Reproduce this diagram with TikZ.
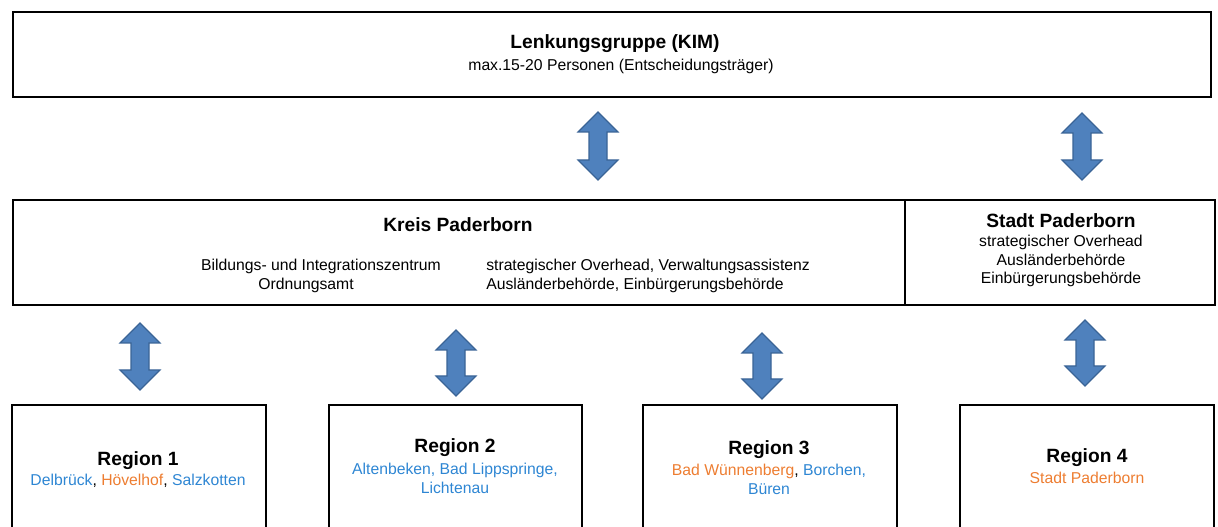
\documentclass[tikz,border=0pt]{standalone}
\usepackage{fontspec}
\setmainfont{Liberation Sans}
\definecolor{arrowfill}{HTML}{4F81BD}
\definecolor{arrowline}{HTML}{3A6496}
\definecolor{townblue}{RGB}{46,134,211}
\definecolor{townorange}{HTML}{ED7D31}
\newcommand{\tb}[1]{\textcolor{townblue}{#1}}
\newcommand{\tor}[1]{\textcolor{townorange}{#1}}
\newcommand{\dblarrow}[4]{%
  \path[blockarrow] (#1,#2) -- ({#1+20},{#2+20}) -- ({#1+9},{#2+20}) -- ({#1+9},{#3-20})
    -- ({#1+20},{#3-20}) -- (#1,#3) -- ({#1-20},{#3-20}) -- ({#1-9},{#3-20})
    -- ({#1-9},{#2+20}) -- ({#1-20},{#2+20}) -- cycle;
  \coordinate (#4) at (#1,{(#2+#3)/2});}
\tikzset{
  boxline/.style={draw=black, line width=2.2pt},
  blockarrow/.style={fill=arrowfill, draw=arrowline, line width=0.9pt, line join=miter},
  title/.style={font=\fontsize{14.4}{17}\selectfont\bfseries, inner sep=0pt},
  body/.style={font=\fontsize{11.8}{13.6}\selectfont, inner sep=0pt, align=center},
}
\begin{document}
\begin{tikzpicture}[x=0.75pt, y=-0.75pt]
\useasboundingbox (0,0) rectangle (1218,527);
\clip (0,0) rectangle (1218,527);
% boxes
\draw[boxline] (13,12) rectangle (1211,97);
\draw[boxline] (13,200) rectangle (1215,305);
\draw[boxline] (905,200) -- (905,305);
\draw[boxline] (12,540) |- (266,405) -- (266,540);
\draw[boxline] (329,540) |- (582,405) -- (582,540);
\draw[boxline] (643,540) |- (897,405) -- (897,540);
\draw[boxline] (960,540) |- (1214,405) -- (1214,540);
% top
\node[title] (lenk) at (615,44) {Lenkungsgruppe (KIM)};
\node[body] (lenk2) at (621,66) {max.15-20 Personen (Entscheidungsträger)};
% Kreis
\node[title] (kreis) at (458,225) {Kreis Paderborn};
\node[body] (bild) at (321,266) {Bildungs- und Integrationszentrum};
\node[body] (ord) at (306,285) {Ordnungsamt};
\node[body, anchor=west, align=left] (strat) at (486,276) {strategischer Overhead, Verwaltungsassistenz\\Ausländerbehörde, Einbürgerungsbehörde};
% Stadt
\node[title] (stadt) at (1061,221) {Stadt Paderborn};
\node[body, font=\fontsize{11.8}{13.9}\selectfont] (stadt2) at (1061,261) {strategischer Overhead\\Ausländerbehörde\\Einbürgerungsbehörde};
% regions
\node[title] (r1) at (138,461) {Region 1};
\node[body] (r1t) at (138,481) {\tb{Delbrück}, \tor{Hövelhof}, \tb{Salzkotten}};
\node[title] (r2) at (455,448) {Region 2};
\node[body, font=\fontsize{11.8}{14.2}\selectfont] (r2t) at (455,478.5) {\tb{Altenbeken, Bad Lippspringe,}\\\tb{Lichtenau}};
\node[title] (r3) at (769,450) {Region 3};
\node[body, font=\fontsize{11.8}{14.2}\selectfont] (r3t) at (769,479) {\tor{Bad Wünnenberg}, \tb{Borchen,}\\\tb{Büren}};
\node[title] (r4) at (1087,458) {Region 4};
\node[body] (r4t) at (1087,478) {\tor{Stadt Paderborn}};
% arrows
\dblarrow{598}{112}{180}{a1}
\dblarrow{1082}{113}{180}{a2}
\dblarrow{140}{323}{390}{a3}
\dblarrow{456}{330}{396}{a4}
\dblarrow{762}{333}{399}{a5}
\dblarrow{1085}{320}{386}{a6}
\end{tikzpicture}
\end{document}
